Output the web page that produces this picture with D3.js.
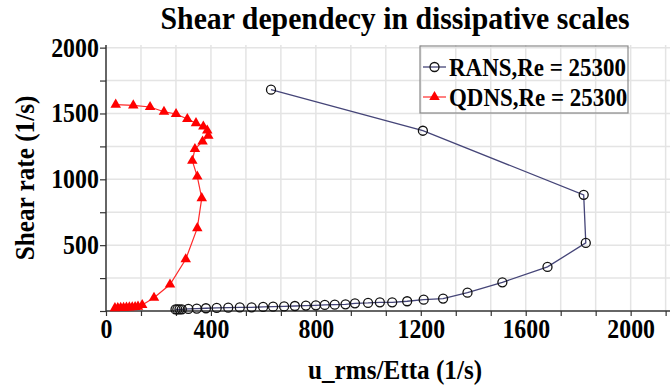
<!DOCTYPE html>
<html>
<head>
<meta charset="utf-8">
<script src="https://cdn.jsdelivr.net/npm/d3@7"></script>
<style>
  html, body { margin: 0; padding: 0; background: #fff; }
  svg { display: block; }
  text { font-family: "Liberation Serif", "Times New Roman", serif; font-weight: bold; fill: #000; }
</style>
</head>
<body>
<svg id="chart" width="670" height="387"></svg>
<script>
// RANS series: [u_rms/Etta, shear rate]
const ransX = [265, 272, 280, 289, 314, 346, 381, 422, 466, 510, 555, 599, 637, 679, 720, 762, 800, 834, 872, 913,
               949, 999, 1044, 1091, 1148, 1211, 1285, 1378, 1511, 1683, 1829, 1821, 1208, 629];
const ransY = [12, 12, 13, 13, 16, 18, 21, 23, 25, 27, 28, 31, 33, 35, 38, 41, 43, 46, 48, 51,
               58, 61, 66, 66, 74, 86, 94, 139, 218, 335, 517, 882, 1369, 1681];

// QDNS series
const qdnsX = [37, 104, 168, 221, 267, 310, 343, 371, 386, 390, 368, 339, 329, 348, 365, 348, 304, 244, 183, 138,
               122, 111, 100, 89, 78, 67, 56, 45, 34];
const qdnsY = [1567, 1561, 1549, 1513, 1496, 1458, 1427, 1401, 1371, 1331, 1287, 1230, 1141, 1021, 857, 629, 393, 201, 100, 45,
               33, 30, 28, 27, 26, 25, 24, 23, 22];

const seriesNames = ["RANS,Re = 25300", "QDNS,Re = 25300"];
const titleText = "Shear dependecy in dissipative scales";
const xTitle = "u_rms/Etta (1/s)";
const yTitle = "Shear rate (1/s)";

const xTickValues = d3.range(0, 17).map(i => i * 400 / 3);
const yTickValues = d3.range(0, 2001, 250);
const xLabelled = [0, 400, 800, 1200, 1600, 2000];
const yLabelled = [500, 1000, 1500, 2000];

const svg = d3.select("#chart");
const x = d3.scaleLinear().domain([0, 2150]).range([106, 670]);
const y = d3.scaleLinear().domain([0, 2020]).range([311, 45]);
const SX = 0.9; // horizontal squeeze of the serif lettering

// grid
const grid = svg.append("g").attr("stroke", "#e4e4e4").attr("stroke-width", 1.5);
grid.selectAll("line.v").data(xTickValues.slice(1)).join("line")
  .attr("x1", d => x(d)).attr("x2", d => x(d))
  .attr("y1", y(0)).attr("y2", y(2020));
grid.selectAll("line.h").data(yTickValues.slice(1)).join("line")
  .attr("x1", x(0)).attr("x2", x(2150))
  .attr("y1", d => y(d)).attr("y2", d => y(d));

// axes
const xAxis = d3.axisBottom(x).tickValues(xTickValues).tickSize(5).tickSizeOuter(0).tickPadding(3)
  .tickFormat(d => xLabelled.some(v => Math.abs(v - d) < 1e-6) ? d3.format("d")(Math.round(d)) : "");
const gx = svg.append("g").attr("transform", `translate(0,${y(0)})`).call(xAxis);

const yAxis = d3.axisLeft(y).tickValues(yTickValues).tickSize(6).tickSizeOuter(0).tickPadding(2)
  .tickFormat(d => yLabelled.includes(d) ? d : "");
const gy = svg.append("g").attr("transform", `translate(${x(0)},0)`).call(yAxis);

[gx, gy].forEach(g => {
  g.select(".domain").attr("stroke", "#333").attr("stroke-width", 1.5);
  g.selectAll(".tick line").attr("stroke", "#333").attr("stroke-width", 1.2);
  g.selectAll(".tick text").attr("font-size", 26.5).attr("fill", "#000")
    .attr("font-family", "Liberation Serif, serif").attr("font-weight", "bold")
    .attr("transform", `scale(${SX},1)`);
});
gx.select(".domain").attr("d", `M${x(0)},0H${x(2150)}`);
gy.select(".domain").attr("d", `M0,${y(0)}V${y(2020)}`);

// lines
const ransPts = ransX.map((v, i) => [v, ransY[i]]);
const qdnsPts = qdnsX.map((v, i) => [v, qdnsY[i]]);
const line = d3.line().x(d => x(d[0])).y(d => y(d[1]));

svg.append("path").datum(qdnsPts).attr("d", line)
  .attr("fill", "none").attr("stroke", "#ff2a2a").attr("stroke-width", 1.2);
svg.append("path").datum(ransPts).attr("d", line)
  .attr("fill", "none").attr("stroke", "#454578").attr("stroke-width", 1.3);

const tri = d3.symbol().type(d3.symbolTriangle).size(48);
svg.append("g").selectAll("path").data(qdnsPts).join("path")
  .attr("d", tri).attr("transform", d => `translate(${x(d[0])},${y(d[1])})`)
  .attr("fill", "#ff0000");

svg.append("g").selectAll("circle").data(ransPts).join("circle")
  .attr("cx", d => x(d[0])).attr("cy", d => y(d[1])).attr("r", 4.5)
  .attr("fill", "none").attr("stroke", "#111").attr("stroke-width", 1.3);

// legend
const lg = svg.append("g");
lg.append("rect").attr("x", 420).attr("y", 46).attr("width", 208).attr("height", 67)
  .attr("fill", "none").attr("stroke", "#8a8a8a").attr("stroke-width", 1.2);
const rows = [67, 97];
lg.append("line").attr("x1", 423).attr("x2", 446).attr("y1", rows[0]).attr("y2", rows[0])
  .attr("stroke", "#454578").attr("stroke-width", 1.3);
lg.append("circle").attr("cx", 434.5).attr("cy", rows[0]).attr("r", 4.5)
  .attr("fill", "none").attr("stroke", "#111").attr("stroke-width", 1.3);
lg.append("line").attr("x1", 423).attr("x2", 446).attr("y1", rows[1]).attr("y2", rows[1])
  .attr("stroke", "#ff2a2a").attr("stroke-width", 1.2);
lg.append("path").attr("d", tri).attr("transform", `translate(434.5,${rows[1]})`).attr("fill", "#ff0000");
seriesNames.forEach((name, i) => {
  lg.append("text").attr("transform", `translate(449,${rows[i] + 8.5}) scale(${SX},1)`)
    .attr("font-size", 25.5).text(name);
});

// titles
svg.append("text").attr("transform", `translate(395,29) scale(0.93,1)`)
  .attr("text-anchor", "middle").attr("font-size", 32).text(titleText);
svg.append("text").attr("transform", `translate(395,379) scale(${SX},1)`)
  .attr("text-anchor", "middle").attr("font-size", 28).text(xTitle);
svg.append("text").attr("transform", `translate(34,178) rotate(-90) scale(${SX},1)`)
  .attr("text-anchor", "middle").attr("font-size", 28).text(yTitle);
</script>
</body>
</html>
